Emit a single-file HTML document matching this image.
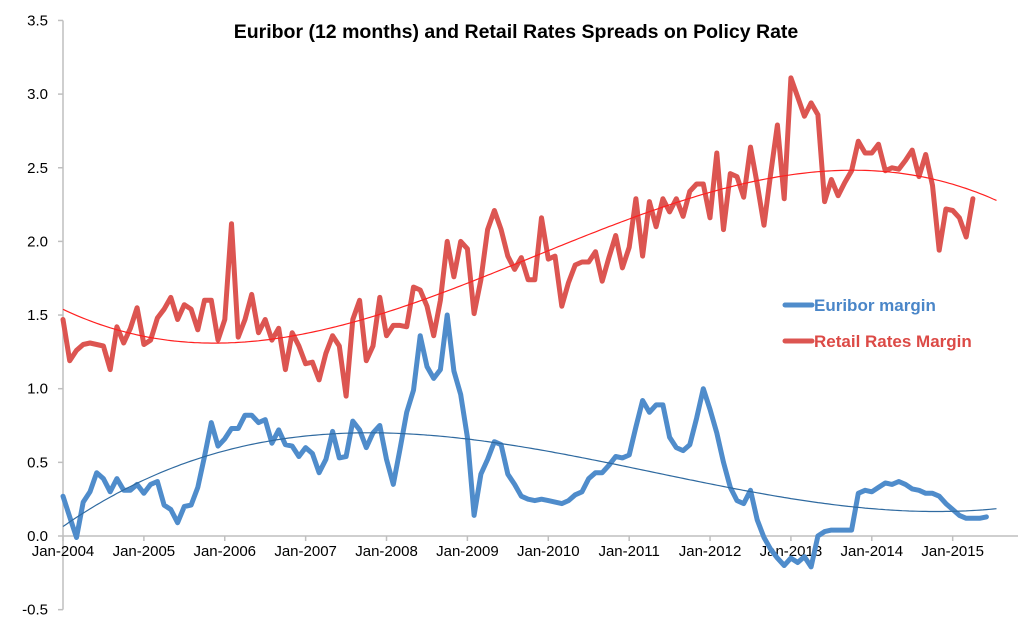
<!DOCTYPE html>
<html><head><meta charset="utf-8"><style>
html,body{margin:0;padding:0;background:#fff}
svg{display:block;font-family:"Liberation Sans",sans-serif}
</style></head><body>
<svg id="chart" width="1034" height="630">
<text x="516" y="38" text-anchor="middle" font-size="19.5" font-weight="bold" fill="#000">Euribor (12 months) and Retail Rates Spreads on Policy Rate</text>
<g id="axes"></g>
<g id="series"></g>
<g>
<line x1="785" y1="305" x2="812" y2="305" stroke="#4f8ccb" stroke-width="5" stroke-linecap="round"/>
<text x="814" y="311" font-size="17" font-weight="bold" fill="#4a86c8">Euribor margin</text>
<line x1="785" y1="341" x2="812" y2="341" stroke="#dc5551" stroke-width="5" stroke-linecap="round"/>
<text x="814" y="347" font-size="17" font-weight="bold" fill="#dc4a46">Retail Rates Margin</text>
</g>
</svg>
<script>
const yTicks=[-0.5,0,0.5,1,1.5,2,2.5,3,3.5];
const yTickLabels=["-0.5","0.0","0.5","1.0","1.5","2.0","2.5","3.0","3.5"];
const xTickLabels=["Jan-2004","Jan-2005","Jan-2006","Jan-2007","Jan-2008","Jan-2009","Jan-2010","Jan-2011","Jan-2012","Jan-2013","Jan-2014","Jan-2015"];
const euribor=[0.27,0.13,-0.01,0.23,0.30,0.43,0.39,0.30,0.39,0.31,0.31,0.35,
0.29,0.35,0.37,0.21,0.18,0.09,0.20,0.21,0.33,0.54,0.77,0.61,
0.66,0.73,0.73,0.82,0.82,0.77,0.79,0.63,0.72,0.62,0.61,0.54,
0.60,0.56,0.43,0.52,0.71,0.53,0.54,0.78,0.72,0.60,0.70,0.75,
0.52,0.35,0.59,0.84,0.99,1.36,1.15,1.07,1.13,1.50,1.12,0.96,
0.67,0.14,0.42,0.52,0.64,0.62,0.42,0.35,0.27,0.25,0.24,0.25,
0.24,0.23,0.22,0.24,0.28,0.30,0.39,0.43,0.43,0.48,0.54,0.53,
0.55,0.74,0.92,0.84,0.89,0.89,0.67,0.60,0.58,0.62,0.80,1.00,
0.86,0.70,0.50,0.33,0.24,0.22,0.31,0.11,-0.01,-0.09,-0.15,-0.20,
-0.15,-0.18,-0.14,-0.21,0.00,0.03,0.04,0.04,0.04,0.04,0.29,0.31,
0.30,0.33,0.36,0.35,0.37,0.35,0.32,0.31,0.29,0.29,0.27,0.22,
0.18,0.14,0.12,0.12,0.12,0.13];
const retail=[1.47,1.19,1.26,1.30,1.31,1.30,1.29,1.13,1.42,1.31,1.41,1.55,
1.30,1.33,1.48,1.54,1.62,1.47,1.57,1.54,1.40,1.60,1.60,1.33,
1.47,2.12,1.35,1.47,1.64,1.38,1.47,1.33,1.41,1.13,1.38,1.29,
1.17,1.18,1.06,1.24,1.36,1.29,0.95,1.47,1.60,1.19,1.29,1.62,
1.36,1.43,1.43,1.42,1.69,1.67,1.56,1.36,1.60,2.00,1.76,2.00,
1.95,1.51,1.74,2.08,2.21,2.08,1.90,1.81,1.89,1.74,1.74,2.16,
1.88,1.90,1.56,1.72,1.84,1.86,1.86,1.93,1.73,1.89,2.04,1.82,
1.96,2.29,1.90,2.27,2.10,2.29,2.20,2.29,2.17,2.34,2.39,2.39,
2.16,2.60,2.08,2.46,2.44,2.30,2.64,2.39,2.11,2.46,2.79,2.29,
3.11,2.98,2.85,2.94,2.86,2.27,2.42,2.31,2.40,2.48,2.68,2.60,
2.60,2.66,2.48,2.50,2.49,2.55,2.62,2.44,2.59,2.38,1.94,2.22,
2.21,2.16,2.03,2.29];
const NS="http://www.w3.org/2000/svg";
const X0=63,PXM=6.74,Y0=536,PXU=147.3;
function xs(m){return X0+PXM*m;}
function ys(v){return Y0-PXU*v;}
function mk(tag,attrs,parent){const e=document.createElementNS(NS,tag);for(const k in attrs)e.setAttribute(k,attrs[k]);parent.appendChild(e);return e;}
const axes=document.getElementById('axes'),series=document.getElementById('series');
const yAxis=mk('line',{x1:X0,y1:ys(3.5),x2:X0,y2:ys(-0.5),stroke:'#bfbfbf','stroke-width':1.5},axes);


yTicks.forEach((v,i)=>{
 const t=mk('line',{x1:X0-5,y1:ys(v),x2:X0,y2:ys(v),stroke:'#bfbfbf','stroke-width':1.5},axes);
 
 
 const l=mk('text',{x:X0-15,y:ys(v)+5,'text-anchor':'end','font-size':15,fill:'#000'},axes);
 l.textContent=yTickLabels[i];
 
 
});
const xAxis=mk('line',{x1:X0,y1:Y0,x2:1018,y2:Y0,stroke:'#bfbfbf','stroke-width':1.5},axes);


xTickLabels.forEach((s,i)=>{
 const x=xs(i*12);
 const t=mk('line',{x1:x,y1:Y0,x2:x,y2:Y0+5,stroke:'#bfbfbf','stroke-width':1.5},axes);
 
 
 const l=mk('text',{x:x,y:Y0+20,'text-anchor':'middle','font-size':15,fill:'#000'},axes);
 l.textContent=s;
 
 
});
function polyfit(ys_,deg){
 const n=deg+1,A=[],b=[];
 for(let i=0;i<n;i++){A.push(new Array(n).fill(0));b.push(0);}
 ys_.forEach((y,m)=>{const t=m/100;for(let i=0;i<n;i++){b[i]+=y*Math.pow(t,i);for(let j=0;j<n;j++)A[i][j]+=Math.pow(t,i+j);}});
 for(let i=0;i<n;i++){let p=i;for(let r=i+1;r<n;r++)if(Math.abs(A[r][i])>Math.abs(A[p][i]))p=r;[A[i],A[p]]=[A[p],A[i]];[b[i],b[p]]=[b[p],b[i]];
  for(let r=i+1;r<n;r++){const f=A[r][i]/A[i][i];for(let c=i;c<n;c++)A[r][c]-=f*A[i][c];b[r]-=f*b[i];}}
 const c=new Array(n).fill(0);
 for(let i=n-1;i>=0;i--){let s=b[i];for(let j=i+1;j<n;j++)s-=A[i][j]*c[j];c[i]=s/A[i][i];}
 return m=>{const t=m/100;let s=0;for(let i=0;i<n;i++)s+=c[i]*Math.pow(t,i);return s;};
}
function trend(data,color,name){
 const f=polyfit(data,3);let d='';
 for(let m=0;m<=138.5;m+=0.5)d+=(m?'L':'M')+xs(m).toFixed(1)+','+ys(f(m)).toFixed(1);
 const p=mk('path',{d:d,fill:'none',stroke:color,'stroke-width':1.2},series);
 
 
}
function line(data,color,name){
 const d=data.map((v,m)=>(m?'L':'M')+xs(m).toFixed(1)+','+ys(v).toFixed(1)).join('');
 const p=mk('path',{d:d,fill:'none',stroke:color,'stroke-width':5,'stroke-linejoin':'round','stroke-linecap':'round'},series);
 
 
}
line(retail,'#dc5551','retail-margin-line');
line(euribor,'#4f8ccb','euribor-margin-line');
trend(retail,'#ff2020','retail-trend-line');
trend(euribor,'#2f6aa0','euribor-trend-line');
</script>
</body></html>
